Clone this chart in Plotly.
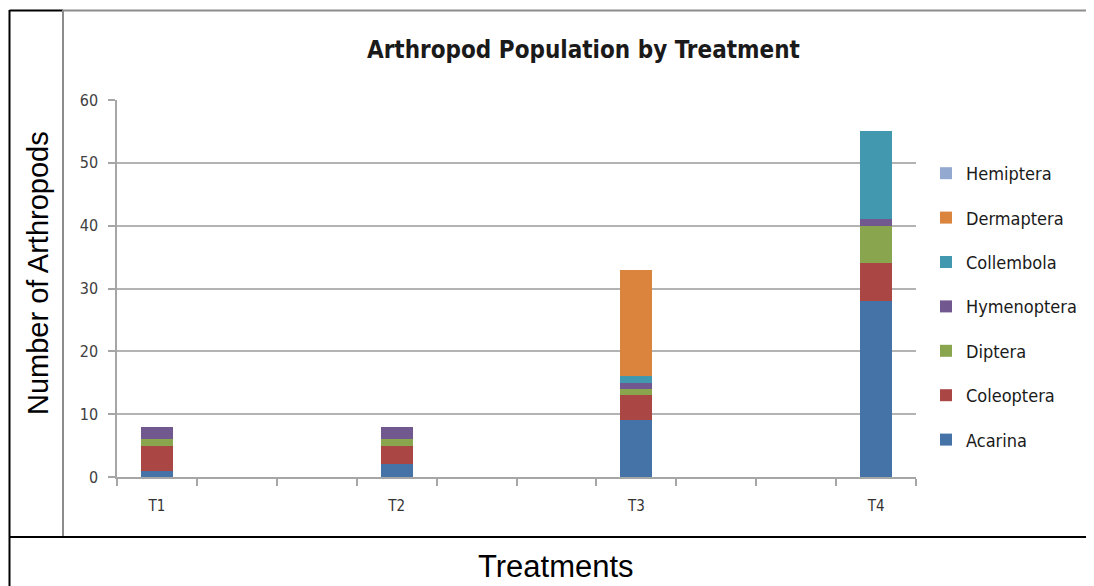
import plotly.graph_objects as go

treatments = ["T1", "T2", "T3", "T4"]
category_slots = [0, 3, 6, 9]  # category index of each treatment on a 10-slot axis
acarina = [1, 2, 9, 28]
coleoptera = [4, 3, 4, 6]
diptera = [1, 1, 1, 6]
hymenoptera = [2, 2, 1, 1]
collembola = [0, 0, 1, 14]
dermaptera = [0, 0, 17, 0]
hemiptera = [0, 0, 0, 0]

series = [
    ("Acarina", acarina, "#4572a7"),
    ("Coleoptera", coleoptera, "#aa4643"),
    ("Diptera", diptera, "#89a54e"),
    ("Hymenoptera", hymenoptera, "#71588f"),
    ("Collembola", collembola, "#4198af"),
    ("Dermaptera", dermaptera, "#db843d"),
    ("Hemiptera", hemiptera, "#93a9cf"),
]

OFF = 8  # page body margin
PW, PH = 1094, 586
W, H = PW - OFF, PH - OFF
L, R, T, B = 117, 916, 100, 477  # plot area in page pixels


def px(x):
    return (x - L) / (R - L)


def py(y):
    return (B - y) / (B - T)


fig = go.Figure()
n = len(series)
for i, (name, vals, col) in enumerate(series):
    fig.add_trace(go.Bar(
        x=category_slots, y=vals, name=name, width=0.4,
        marker=dict(color=col, line=dict(width=0)),
        legendgroup=name, legendrank=100 + (n - i),
    ))

shapes = []
def line(x0, y0, x1, y1, color, w):
    shapes.append(dict(type="line", xref="paper", yref="paper",
                       x0=px(x0), y0=py(y0), x1=px(x1), y1=py(y1),
                       line=dict(color=color, width=w)))

line(9.5, 10, 9.5, 586, "#000000", 2)
line(9.5, 10.5, 63, 10.5, "#000000", 2)
line(63, 10.5, 1094, 10.5, "#8c8c8c", 2)
line(63, 10, 63, 537, "#8c8c8c", 2)
line(9.5, 537, 1094, 537, "#000000", 2)

fig.update_layout(
    width=W, height=H,
    margin=dict(l=L - OFF, r=PW - R, t=T - OFF, b=PH - B),
    paper_bgcolor="white", plot_bgcolor="white",
    barmode="stack",
    bargap=0,
    shapes=shapes,
    showlegend=True,
    legend=dict(
        traceorder="grouped",
        x=px(926), xanchor="left", y=py(155), yanchor="top",
        font=dict(family="DejaVu Sans Condensed", size=18, color="#1a1a1a"),
        tracegroupgap=18,
        itemwidth=30,
        bgcolor="rgba(0,0,0,0)",
    ),
    annotations=[
        dict(text="<b>Arthropod Population by Treatment</b>", xref="paper", yref="paper",
             x=px(583), y=py(50), xanchor="center", yanchor="middle", showarrow=False,
             font=dict(family="DejaVu Sans Condensed", size=24, color="#1a1a1a")),
        dict(text="Number of Arthropods", xref="paper", yref="paper",
             x=px(38), y=py(273), xanchor="center", yanchor="middle", showarrow=False,
             textangle=-90,
             font=dict(family="Liberation Sans", size=29, color="#000000")),
        dict(text="Treatments", xref="paper", yref="paper",
             x=px(556), y=py(566), xanchor="center", yanchor="middle", showarrow=False,
             font=dict(family="Liberation Sans", size=31, color="#000000")),
    ],
)

fig.update_xaxes(
    range=[-0.5, 9.5],
    tickvals=category_slots, ticktext=treatments,
    ticks="", showgrid=False, zeroline=False,
    showline=True, linecolor="#a6a6a6", linewidth=1.5,
    tickfont=dict(family="DejaVu Sans Condensed", size=15, color="#333333"),
    minor=dict(tick0=-0.5, dtick=1, ticks="outside", ticklen=7, tickcolor="#a6a6a6",
               tickwidth=1.5, showgrid=False),
    ticklabelstandoff=14,
)
fig.update_yaxes(
    range=[0, 60], dtick=10,
    ticks="outside", ticklen=7, tickcolor="#a6a6a6", tickwidth=1.5,
    showgrid=True, gridcolor="#b3b3b3", gridwidth=1.5,
    zeroline=False,
    showline=True, linecolor="#a6a6a6", linewidth=1.5,
    tickfont=dict(family="DejaVu Sans Condensed", size=16, color="#404040"),
    ticklabelstandoff=7,
)

fig.write_html("out.html")
